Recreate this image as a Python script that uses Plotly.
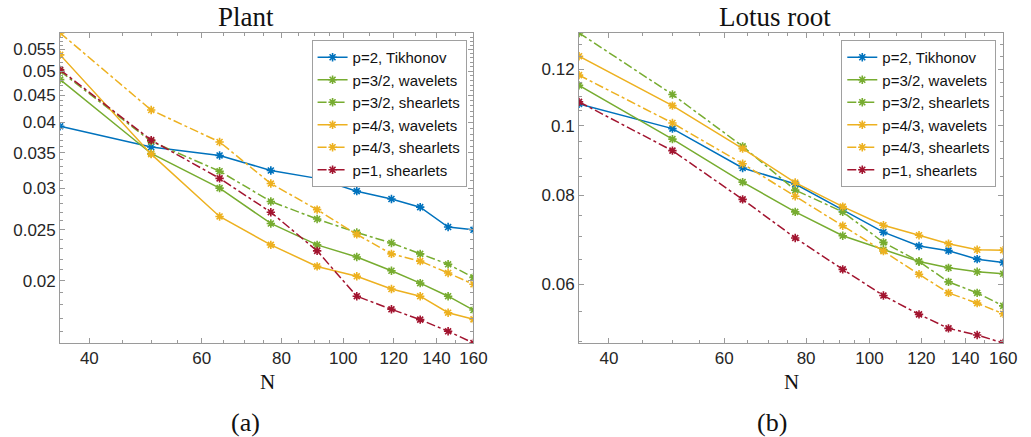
import math
import plotly.graph_objects as go

# ---------------- data ----------------
N = [36, 50, 64, 77, 91, 105, 119, 132, 146, 160]

series_names = ["p=2, Tikhonov", "p=3/2, wavelets", "p=3/2, shearlets",
                "p=4/3, wavelets", "p=4/3, shearlets", "p=1, shearlets"]

plant_tikhonov = [0.0393, 0.0359, 0.0346, 0.0324, 0.0313, 0.0296, 0.0286, 0.0276, 0.0253, 0.0250]
plant_p32_wav = [0.0482, 0.0349, 0.0300, 0.0257, 0.0234, 0.0222, 0.0209, 0.0198, 0.0187, 0.0176]
plant_p32_she = [0.0500, 0.0368, 0.0323, 0.0283, 0.0262, 0.0247, 0.0236, 0.0225, 0.0215, 0.0203]
plant_p43_wav = [0.0537, 0.0348, 0.0265, 0.0234, 0.0213, 0.0204, 0.0193, 0.0187, 0.0174, 0.0169]
plant_p43_she = [0.0591, 0.0422, 0.0367, 0.0306, 0.0273, 0.0245, 0.0225, 0.0218, 0.0207, 0.0197]
plant_p1_she = [0.0503, 0.0370, 0.0313, 0.0270, 0.0228, 0.0187, 0.01766, 0.01688, 0.01604, 0.01524]

lotus_tikhonov = [0.1073, 0.0991, 0.0873, 0.0829, 0.0763, 0.0710, 0.0679, 0.0669, 0.0651, 0.0644]
lotus_p32_wav = [0.1139, 0.0958, 0.0834, 0.0758, 0.0702, 0.0671, 0.0646, 0.0633, 0.0625, 0.0621]
lotus_p32_she = [0.1348, 0.1106, 0.0936, 0.0813, 0.0758, 0.0687, 0.0646, 0.0605, 0.0584, 0.0560]
lotus_p43_wav = [0.1251, 0.1067, 0.0929, 0.0833, 0.0771, 0.0726, 0.0703, 0.0684, 0.0671, 0.0670]
lotus_p43_she = [0.1177, 0.1009, 0.0885, 0.0797, 0.0725, 0.0668, 0.0620, 0.0584, 0.0565, 0.0546]
lotus_p1_she = [0.1080, 0.0923, 0.0789, 0.0697, 0.0630, 0.0579, 0.0545, 0.0521, 0.0510, 0.0497]

x_ticks = [40, 60, 80, 100, 120, 140, 160]
x_minor = [45, 50, 55, 65, 70, 75, 85, 90, 95, 110, 130, 150]
plant_yticks = [0.02, 0.025, 0.03, 0.035, 0.04, 0.045, 0.05, 0.055]
plant_ytext = ["0.02", "0.025", "0.03", "0.035", "0.04", "0.045", "0.05", "0.055"]
lotus_yticks = [0.06, 0.08, 0.1, 0.12]
lotus_ytext = ["0.06", "0.08", "0.1", "0.12"]

# ---------------- style ----------------
colors = ["#0072BD", "#77AC30", "#77AC30", "#EDB120", "#EDB120", "#A2142F"]
dashes = ["solid", "solid", "dashdot", "solid", "dashdot", "dashdot"]
W, H = 1031, 437

def px_x(p):
    return p / W

def px_y(p):
    return 1 - p / H

plant = [plant_tikhonov, plant_p32_wav, plant_p32_she, plant_p43_wav, plant_p43_she, plant_p1_she]
lotus = [lotus_tikhonov, lotus_p32_wav, lotus_p32_she, lotus_p43_wav, lotus_p43_she, lotus_p1_she]

fig = go.Figure()
for panel, (data, xa, ya, lg) in enumerate([(plant, "x", "y", "legend"), (lotus, "x2", "y2", "legend2")]):
    for name, vals, c, d in zip(series_names, data, colors, dashes):
        fig.add_trace(go.Scatter(
            x=N, y=vals, name=name, mode="lines+markers",
            xaxis=xa, yaxis=ya, legend=lg,
            line=dict(color=c, width=1.5, dash=d),
            marker=dict(symbol="asterisk-open", size=7, color=c, line=dict(color=c, width=1.6)),
        ))

axis_color = "#9a9a9a"
tick_font = dict(family="Liberation Sans, Arial, sans-serif", size=17, color="#262626")

def minor_vals(lo, hi, step):
    vals = []
    k = math.ceil(lo / step - 1e-9)
    while k * step <= hi + 1e-12:
        vals.append(round(k * step, 6))
        k += 1
    return vals

def xaxis(domain, anchor):
    return dict(
        type="log", domain=domain, anchor=anchor,
        range=[math.log10(min(N)), math.log10(max(N))],
        tickvals=x_ticks, ticktext=[str(v) for v in x_ticks],
        ticks="inside", ticklen=5, tickcolor=axis_color, tickwidth=1,
        showline=True, linecolor=axis_color, linewidth=1, mirror="allticks",
        showgrid=False, zeroline=False, tickfont=tick_font,
        minor=dict(tickvals=x_minor, ticks="inside", ticklen=3, tickcolor=axis_color, showgrid=False),
    )

def yaxis(domain, anchor, data, tv, tt, step):
    lo = min(min(s) for s in data)
    hi = max(max(s) for s in data)
    mv = [v for v in minor_vals(lo, hi, step) if v not in tv]
    return dict(
        type="log", domain=domain, anchor=anchor,
        range=[math.log10(lo), math.log10(hi)],
        tickvals=tv, ticktext=tt,
        ticks="inside", ticklen=5, tickcolor=axis_color, tickwidth=1,
        showline=True, linecolor=axis_color, linewidth=1, mirror="allticks",
        showgrid=False, zeroline=False, tickfont=tick_font,
        minor=dict(tickvals=mv, ticks="inside", ticklen=3, tickcolor=axis_color, showgrid=False),
    )

ydom = [px_y(343), px_y(33)]
legend_style = dict(
    bgcolor="white", bordercolor="#a0a0a0", borderwidth=1,
    font=dict(family="Liberation Sans, Arial, sans-serif", size=15, color="#111111"),
    xanchor="right", yanchor="top", tracegroupgap=0, itemwidth=30,
)

fig.update_layout(
    width=W, height=H, autosize=False,
    margin=dict(l=0, r=0, t=0, b=0),
    paper_bgcolor="white", plot_bgcolor="white",
    xaxis=xaxis([px_x(61), px_x(480)], "y"),
    yaxis=yaxis(ydom, "x", plant, plant_yticks, plant_ytext, 0.001),
    xaxis2=xaxis([px_x(587), px_x(1017)], "y2"),
    yaxis2=yaxis(ydom, "x2", lotus, lotus_yticks, lotus_ytext, 0.005),
    legend=dict(x=px_x(473), y=px_y(40), **legend_style),
    legend2=dict(x=px_x(1010), y=px_y(40), **legend_style),
    showlegend=True,
)

serif = "Liberation Serif, Times New Roman, serif"
annots = [
    ("Plant", 249, 17, 27),
    ("Lotus root", 786, 17, 27),
    ("N", 271, 382, 21),
    ("N", 802, 382, 21),
    ("(a)", 249, 422, 26),
    ("(b)", 783, 422, 26),
]
for text, ax_, ay_, size in annots:
    fig.add_annotation(text=text, x=px_x(ax_), y=px_y(ay_), xref="paper", yref="paper",
                       xanchor="center", yanchor="middle", showarrow=False,
                       font=dict(family=serif, size=size, color="#111111"))

fig.write_html("out.html", config={"displayModeBar": False},
               post_script="document.body.style.margin='0';")
